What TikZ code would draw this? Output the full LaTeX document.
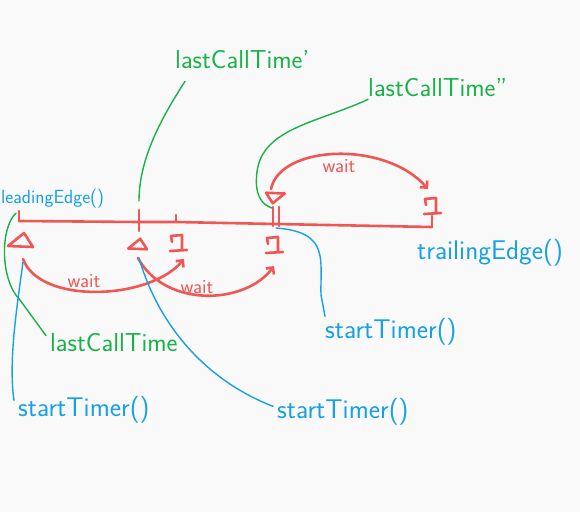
\documentclass[tikz,border=0pt]{standalone}
\usepackage{tikz}
\usetikzlibrary{arrows.meta}
\definecolor{penred}{RGB}{240,86,84}
\definecolor{pengreen}{RGB}{24,178,72}
\definecolor{penblue}{RGB}{22,160,230}
\definecolor{paper}{RGB}{249,249,249}

\begin{document}
\begin{tikzpicture}
  [x=1pt, y=-1pt, line cap=round, line join=round,
   redpen/.style={draw=penred, line width=2.6pt},
   greenpen/.style={draw=pengreen, line width=1.4pt},
   bluepen/.style={draw=penblue, line width=1.4pt},
   waitarrow/.style={redpen, -{Straight Barb[length=5pt, width=10pt]}},
   greentext/.style={text=pengreen, font=\sffamily\fontsize{26}{28}\selectfont, inner sep=0pt, anchor=west},
   bluetext/.style={text=penblue, font=\sffamily\fontsize{27}{29}\selectfont, inner sep=0pt, anchor=west},
   waittext/.style={text=penred, font=\sffamily\fontsize{20}{22}\selectfont, inner sep=0pt},
   upmark/.pic={\draw[redpen] (-13,6) -- (3,-7) -- (12,7) -- cycle;},
   boxmark/.pic={\draw[redpen] (-6,-2) -- (-7,-8) -- (4,-9) -- (4,6);
                 \draw[redpen] (-8,7) -- (9,6);}]
  \fill[paper] (0,0) rectangle (580,512);
  \useasboundingbox (0,0) rectangle (580,512);

  \coordinate (t0) at (19,221);
  \coordinate (t1) at (139,222);
  \coordinate (t2) at (176,222);
  \coordinate (t3) at (276,224);
  \coordinate (t4) at (432,227);
  \draw[redpen] (t0) -- (t1) -- (t2) -- (t3) -- (t4);
  \draw[redpen] (19,211) -- (t0);
  \draw[redpen] (139,210) -- (139,231);
  \draw[redpen] (176,215) -- (t2);
  \draw[redpen] (273,207) -- (273,226) (279,207) -- (279,226);
  \draw[redpen] (t4) -- (432,216);

  \pic (lead1) at (21,240) {upmark};
  \pic[scale=0.75] (lead2) at (138,244) {upmark};
  \pic[rotate=180, scale=0.75] (lead3) at (275,198) {upmark};
  \pic (trail1) at (178,244) {boxmark};
  \pic (trail2) at (274,246) {boxmark};
  \pic (trail3) at (432,207) {boxmark};

  \coordinate (w1a) at (23,259);
  \coordinate (w1b) at (184,259);
  \coordinate (w2a) at (138,258);
  \coordinate (w2b) at (274,266);
  \coordinate (w3a) at (271,189);
  \coordinate (w3b) at (428,189);
  \draw[waitarrow] (w1a) .. controls (40,305) and (150,300) .. (w1b);
  \draw[waitarrow] (w2a) .. controls (165,308) and (245,305) .. (w2b);
  \draw[waitarrow] (w3a) .. controls (280,145) and (385,140) .. (w3b);
  \node[waittext] (wait1) at (84,281) {wait};
  \node[waittext] (wait2) at (197,287) {wait};
  \node[waittext] (wait3) at (339,166) {wait};

  \node[bluetext, font=\sffamily\fontsize{19}{21}\selectfont] (lead) at (1,199) {leadingEdge()};
  \node[bluetext] (trail) at (417,253) {trailingEdge()};
  \node[greentext] (lastA) at (175,60) {lastCallTime'};
  \node[greentext] (lastB) at (368,88) {lastCallTime''};
  \node[greentext] (last0) at (50,343) {lastCallTime};
  \node[bluetext] (timer0) at (18,410) {startTimer()};
  \node[bluetext] (timer1) at (277,412) {startTimer()};
  \node[bluetext] (timer2) at (325,332) {startTimer()};

  \coordinate (g1) at (139,201);
  \coordinate (g2) at (272,208);
  \coordinate (g0) at (16,213);
  \draw[greenpen] ([xshift=10pt, yshift=-12pt]lastA.south west) .. controls (160,120) and (139,160) .. (g1);
  \draw[greenpen] ([xshift=0pt, yshift=-2pt]lastB.south west) .. controls (320,122) and (262,128) .. (257,172)
    .. controls (254,195) and (262,205) .. (g2);
  \draw[greenpen] ([xshift=-4pt, yshift=-2pt]last0.north west) -- (20,300) .. controls (0,280) and (0,228) .. (g0);

  \coordinate (b0) at (23,262);
  \coordinate (b1) at (139,258);
  \coordinate (b2) at (276,228);
  \draw[bluepen] (b0) .. controls (18,300) and (8,360) .. ([xshift=-4pt, yshift=-4pt]timer0.north west);
  \draw[bluepen] (b1) .. controls (160,330) and (210,382) .. ([xshift=-4pt, yshift=-8pt]timer1.north west);
  \draw[bluepen] (b2) .. controls (330,232) and (320,260) .. (321,295) -- ([xshift=0pt, yshift=2pt]timer2.north west);
\end{tikzpicture}
\end{document}
